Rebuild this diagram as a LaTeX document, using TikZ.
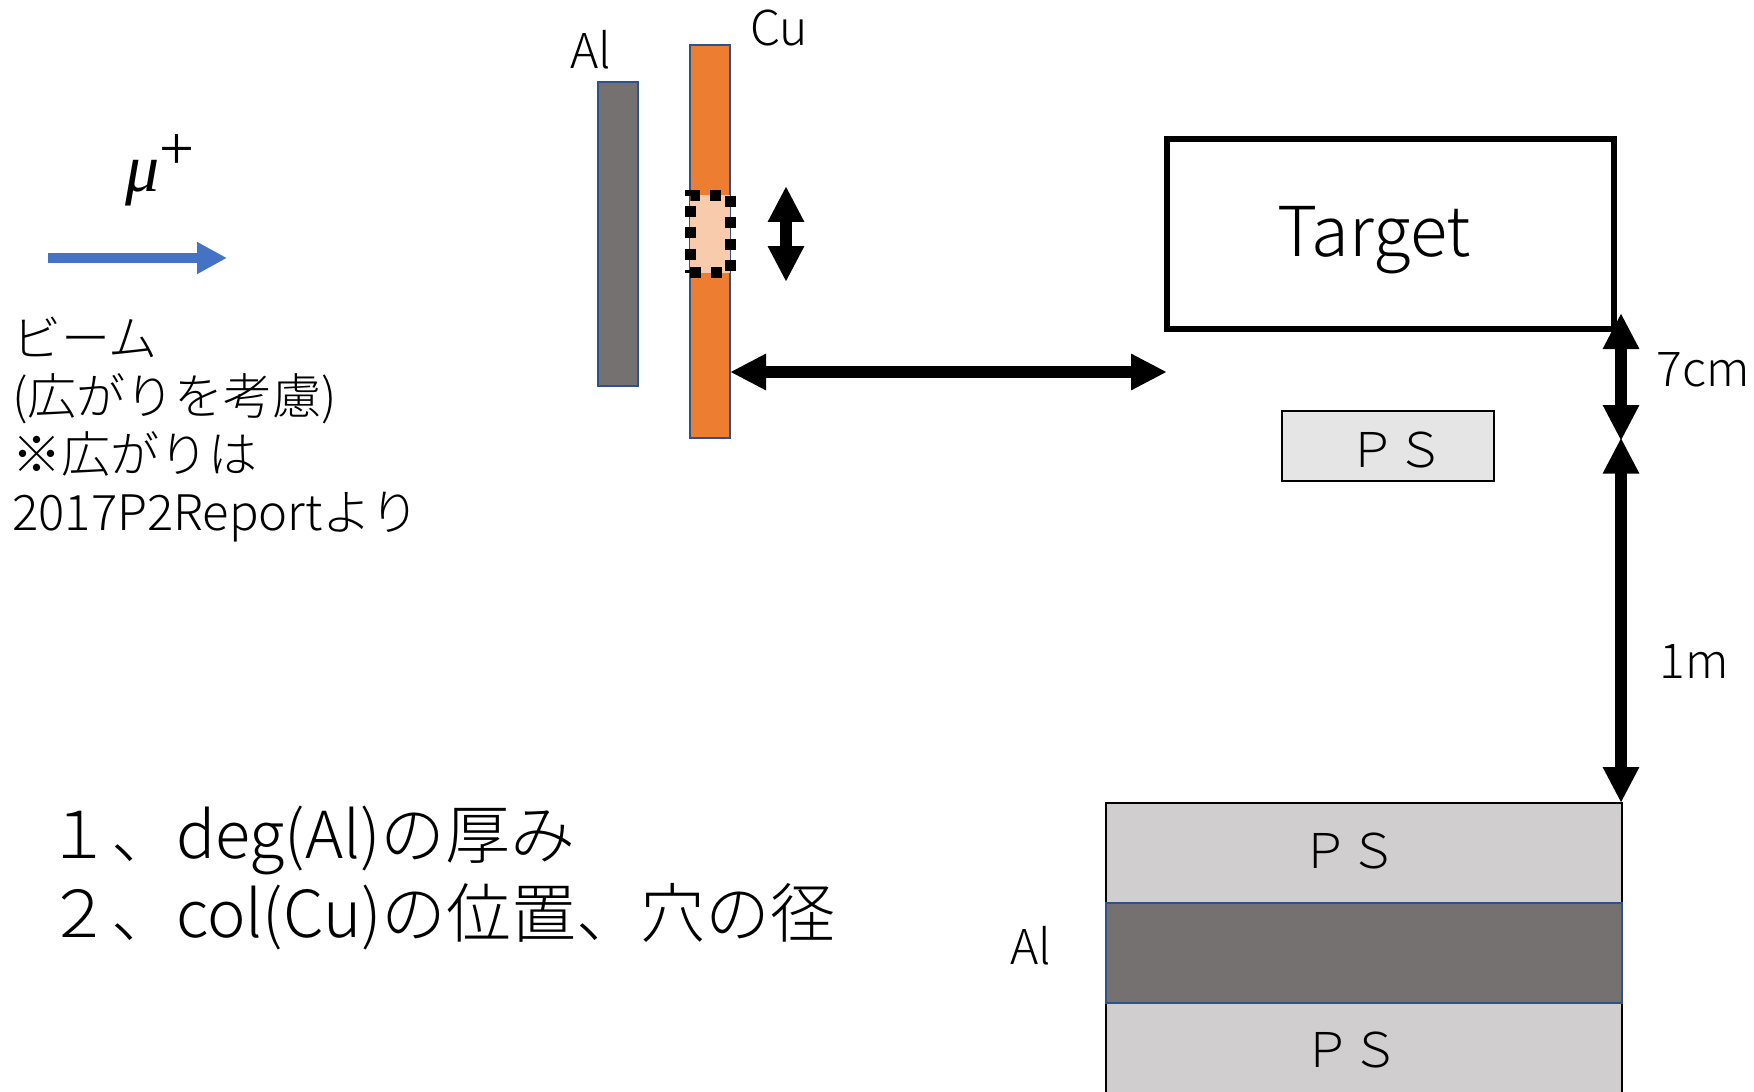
\documentclass[tikz,border=0pt]{standalone}
\usepackage{fontspec}
\setmainfont{Noto Sans CJK JP Light}
\newfontfamily\mufont{Liberation Serif}
\usetikzlibrary{arrows.meta}
\definecolor{algray}{HTML}{767171}
\definecolor{albord}{HTML}{2F528F}
\definecolor{cuor}{HTML}{ED7D31}
\definecolor{holeor}{HTML}{F8CBAD}
\definecolor{psgray}{HTML}{D0CECE}
\definecolor{pslight}{HTML}{E5E5E5}
\definecolor{beam}{HTML}{4472C4}
\tikzstyle{line} = [draw, line width=6pt, {Triangle[length=18pt,width=17pt]}-{Triangle[length=18pt,width=17pt]}]
\tikzstyle{beamline} = [draw=beam, line width=5pt, -{Triangle[length=15pt,width=15pt]}]
\tikzstyle{albar} = [draw=albord, fill=algray, line width=1pt, rectangle, inner sep=0pt]
\tikzstyle{cubar} = [draw=albord, fill=cuor, line width=1pt, rectangle, inner sep=0pt, minimum width=20pt, minimum height=196.5pt]
\tikzstyle{hole} = [fill=holeor, draw=black, line width=5.5pt, dash pattern=on 5.5pt off 5pt, rectangle, inner sep=0pt, minimum width=20pt, minimum height=38.5pt]
\tikzstyle{psblock} = [draw, fill=psgray, line width=1pt, rectangle, inner sep=0pt, minimum width=258pt, minimum height=50pt]
\tikzstyle{lab} = [font=\fontsize{24pt}{29pt}\selectfont, inner sep=0pt]
\tikzstyle{big} = [font=\fontsize{32.4pt}{39.5pt}\selectfont, inner sep=0pt, align=left]
\begin{document}
\begin{tikzpicture}[x=0.5pt,y=-0.5pt]
    \useasboundingbox (0,0) rectangle (1754,1091);
    % beam
    \coordinate (beamS) at (48,258);
    \coordinate (beamE) at (227,258);
    \path [beamline] (beamS) -- (beamE);
    \node [lab, font=\fontsize{34pt}{40pt}\mufont\itshape] (mu) at (160,170) {μ\raisebox{0.32em}{\fontsize{31pt}{34pt}\selectfont\upshape +}};
    \node [lab, anchor=west, align=left, font=\fontsize{24.5pt}{29pt}\selectfont] (beamtxt) at (12,429.5) {ビーム\\(広がりを考慮)\\※広がりは\\2017P2Reportより};
    % degrader and collimator
    \node [albar, minimum width=20pt, minimum height=152pt] (albar) at (618,234) {};
    \node [cubar] (cubar) at (710,241.5) {};
    \node [hole] (hole) at (710,234) {};
    \node [lab] (allab) at (591,50) {Al};
    \node [lab] (culab) at (779,28) {Cu};
    \coordinate (moveT) at (786,186);
    \coordinate (moveB) at (786,282);
    \path [line] (moveT) -- (moveB);
    % target side
    \node [draw, line width=3pt, rectangle, inner sep=0pt, minimum width=223.7pt, minimum height=95.2pt] (target) at (1390.4,234) {};
    \node [font=\fontsize{34.4pt}{36pt}\selectfont, inner sep=0pt] (targettxt) at (1374,240) {Target};
    \node [draw, fill=pslight, line width=1pt, rectangle, inner sep=0pt, minimum width=106pt, minimum height=35pt] (pssmall) at (1388,445.5) {};
    \node [lab] (pssmalltxt) at (1396,450) {ＰＳ};
    \coordinate (colR) at (730,372);
    \coordinate (targL) at (1167,372);
    \path [line] (colR) -- (targL);
    % stack
    \node [psblock] (ps1) at (1364,853) {};
    \node [psblock] (ps2) at (1364,1053) {};
    \node [albar, minimum width=258pt, minimum height=50pt] (alstack) at (1364,953) {};
    \node [lab] (ps1txt) at (1349,851) {ＰＳ};
    \node [lab] (ps2txt) at (1351,1050) {ＰＳ};
    \node [lab] (alstacktxt) at (1031,946) {Al};
    % distances
    \coordinate (dtop) at (1621,313);
    \coordinate (dmidA) at (1621,441);
    \coordinate (dmidB) at (1621,437.6);
    \coordinate (dbot) at (1621,803);
    \path [line] (dtop) -- (dmidA);
    \path [line] (dmidB) -- (dbot);
    \node [lab] (cmlab) at (1703,370) {7cm};
    \node [lab] (mlab) at (1694,662) {1m};
    % notes
    \node [big, anchor=west] (notes) at (46,877.5) {１、deg(Al)の厚み\\２、col(Cu)の位置、穴の径};
\end{tikzpicture}
\end{document}
